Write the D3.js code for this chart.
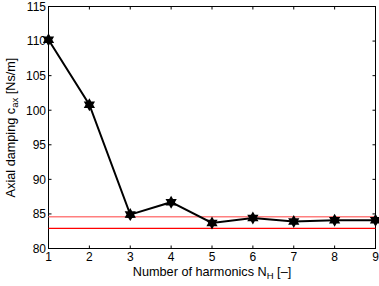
<!DOCTYPE html>
<html>
<head>
<meta charset="utf-8">
<script src="https://cdn.jsdelivr.net/npm/d3@7"></script>
<style>
body { margin: 0; background: #fff; }
text { font-family: "Liberation Sans", Arial, sans-serif; }
</style>
</head>
<body>
<svg width="379" height="286"></svg>
<script>
var harmonics = [1, 2, 3, 4, 5, 6, 7, 8, 9];
var damping = [110.2, 100.8, 84.9, 86.7, 83.7, 84.4, 83.9, 84.1, 84.1];
var refUpper = 84.6, refLower = 82.9;
var yTicks = [80, 85, 90, 95, 100, 105, 110, 115];

var plotL = 48.5, plotR = 375.5, plotT = 6.5, plotB = 248.5;

var svg = d3.select("svg");

var x = d3.scaleLinear().domain([1, 9]).range([plotL, plotR]);
var y = d3.scaleLinear().domain([80, 115]).range([plotB, plotT]);

// frame
svg.append("rect")
  .attr("x", plotL).attr("y", plotT)
  .attr("width", plotR - plotL).attr("height", plotB - plotT)
  .attr("fill", "none").attr("stroke", "#000").attr("stroke-width", 1);

// inward ticks
var tickLen = 3;
harmonics.forEach(function (d) {
  svg.append("line").attr("x1", x(d)).attr("x2", x(d)).attr("y1", plotB).attr("y2", plotB - tickLen).attr("stroke", "#000");
  svg.append("line").attr("x1", x(d)).attr("x2", x(d)).attr("y1", plotT).attr("y2", plotT + tickLen).attr("stroke", "#000");
  svg.append("text").attr("x", x(d)).attr("y", plotB + 12.5)
    .attr("text-anchor", "middle").attr("font-size", 12).text(d);
});
yTicks.forEach(function (d) {
  svg.append("line").attr("x1", plotL).attr("x2", plotL + tickLen).attr("y1", y(d)).attr("y2", y(d)).attr("stroke", "#000");
  svg.append("line").attr("x1", plotR).attr("x2", plotR - tickLen).attr("y1", y(d)).attr("y2", y(d)).attr("stroke", "#000");
  svg.append("text").attr("x", plotL - 2.5).attr("y", y(d) + 4.3)
    .attr("text-anchor", "end").attr("font-size", 12).text(d);
});

// reference lines
svg.append("line").attr("x1", plotL).attr("x2", plotR)
  .attr("y1", y(refUpper)).attr("y2", y(refUpper))
  .attr("stroke", "#ff7f7f").attr("stroke-width", 1.6);
svg.append("line").attr("x1", plotL).attr("x2", plotR)
  .attr("y1", y(refLower)).attr("y2", y(refLower))
  .attr("stroke", "#ff0000").attr("stroke-width", 1.2);

// data line
var line = d3.line()
  .x(function (d, i) { return x(harmonics[i]); })
  .y(function (d) { return y(d); });

svg.append("path").datum(damping)
  .attr("d", line)
  .attr("fill", "none").attr("stroke", "#000").attr("stroke-width", 2);

// hexagram markers
function hexagram(r) {
  var pts = [];
  for (var k = 0; k < 12; k++) {
    var a = Math.PI / 2 + k * Math.PI / 6;
    var rr = (k % 2 === 0) ? r : r * 0.58;
    pts.push([rr * Math.cos(a), -rr * Math.sin(a)]);
  }
  return "M" + pts.join("L") + "Z";
}

svg.selectAll(".mk").data(damping).enter().append("path")
  .attr("class", "mk")
  .attr("d", hexagram(6.5))
  .attr("transform", function (d, i) { return "translate(" + x(harmonics[i]) + "," + y(d) + ")"; })
  .attr("fill", "#000");

// axis labels
svg.append("text").attr("x", (plotL + plotR) / 2).attr("y", 276)
  .attr("text-anchor", "middle").attr("font-size", 12.7)
  .html('Number of harmonics N<tspan dy="3" font-size="9.5">H</tspan><tspan dy="-3"> [\u2013]</tspan>');

svg.append("text")
  .attr("transform", "translate(15," + ((plotT + plotB) / 2) + ") rotate(-90)")
  .attr("text-anchor", "middle").attr("font-size", 12.7)
  .html('Axial damping c<tspan dy="3" font-size="9.5">ax</tspan><tspan dy="-3"> [Ns/m]</tspan>');
</script>
</body>
</html>
